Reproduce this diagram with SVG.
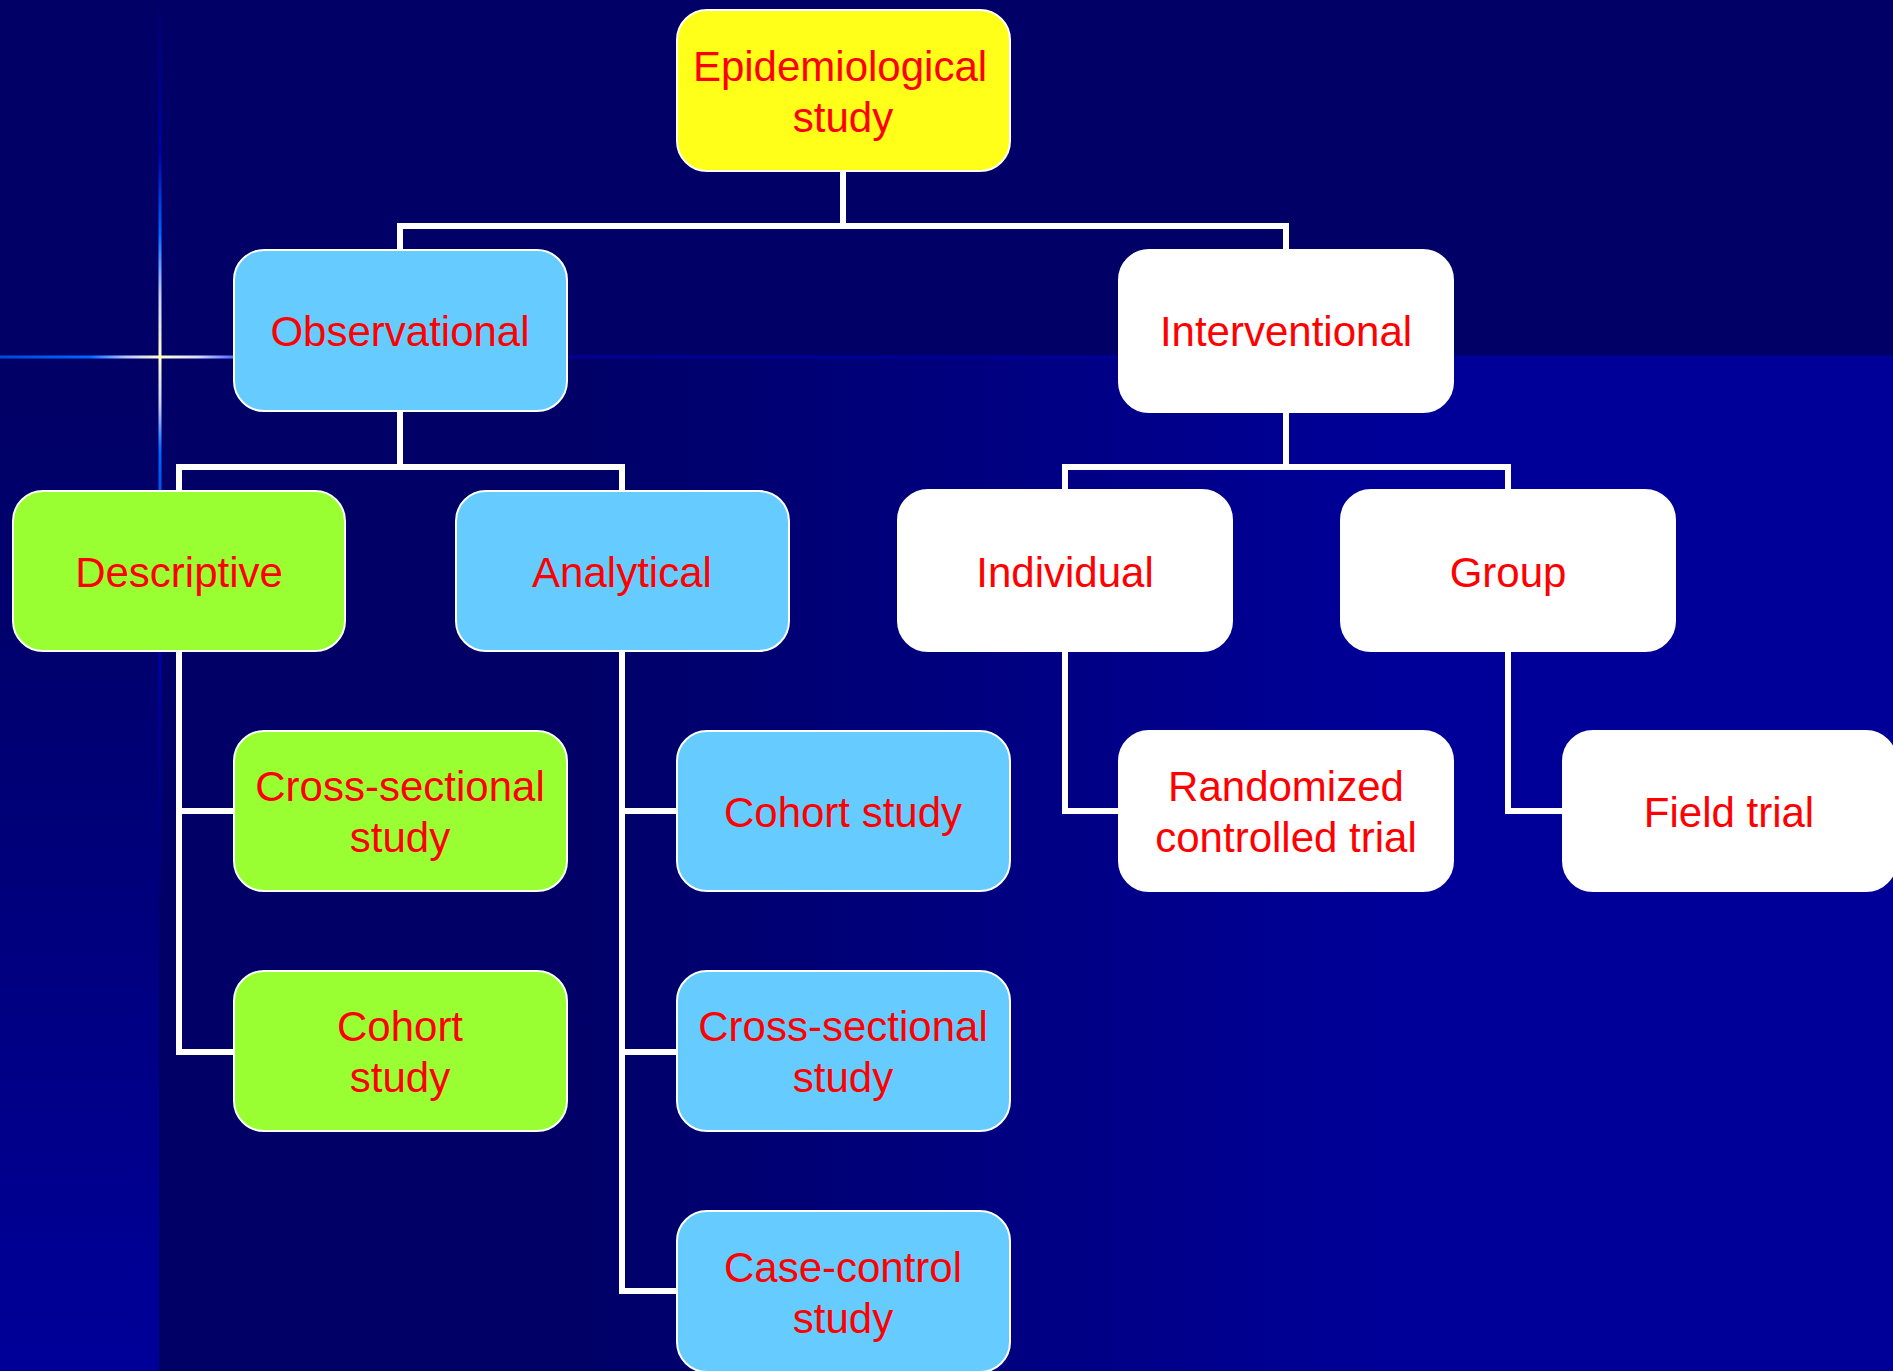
<svg xmlns="http://www.w3.org/2000/svg" width="1893" height="1371" viewBox="0 0 1893 1371">
  <defs>
    <linearGradient id="gLower" gradientUnits="userSpaceOnUse" x1="159" y1="0" x2="1893" y2="0">
      <stop offset="0" stop-color="#000066"/>
      <stop offset="0.23" stop-color="#000066"/>
      <stop offset="0.72" stop-color="#000099"/>
      <stop offset="1" stop-color="#000099"/>
    </linearGradient>
    <linearGradient id="gStrip" gradientUnits="userSpaceOnUse" x1="0" y1="358" x2="0" y2="1371">
      <stop offset="0" stop-color="#000066"/>
      <stop offset="0.3" stop-color="#00006e"/>
      <stop offset="1" stop-color="#000099"/>
    </linearGradient>
    <linearGradient id="gHGlow" gradientUnits="userSpaceOnUse" x1="0" y1="0" x2="600" y2="0">
      <stop offset="0" stop-color="#0048d8"/>
      <stop offset="0.15" stop-color="#0066ff"/>
      <stop offset="0.21" stop-color="#b8c4ff"/>
      <stop offset="0.267" stop-color="#ffffcc"/>
      <stop offset="0.33" stop-color="#d8dcff"/>
      <stop offset="0.39" stop-color="#4a66ff"/>
      <stop offset="0.5" stop-color="#000099"/>
      <stop offset="1" stop-color="#000099"/>
    </linearGradient>
    <linearGradient id="gVGlow" gradientUnits="userSpaceOnUse" x1="0" y1="0" x2="0" y2="900">
      <stop offset="0" stop-color="#000066"/>
      <stop offset="0.04" stop-color="#000080"/>
      <stop offset="0.17" stop-color="#0000aa"/>
      <stop offset="0.26" stop-color="#0066ff"/>
      <stop offset="0.33" stop-color="#c8d0ff"/>
      <stop offset="0.397" stop-color="#ffffcc"/>
      <stop offset="0.45" stop-color="#c8d0ff"/>
      <stop offset="0.5" stop-color="#0066ff"/>
      <stop offset="0.62" stop-color="#0033cc"/>
      <stop offset="0.73" stop-color="#0000aa"/>
      <stop offset="0.88" stop-color="#000088"/>
      <stop offset="1" stop-color="#000070"/>
    </linearGradient>
    <style>
      .node { stroke: #ffffff; stroke-width: 2; }
      .yellow { fill: #ffff19; }
      .blue { fill: #66ccff; }
      .green { fill: #99ff33; }
      .white { fill: #ffffff; }
      .lbl { font-family: "Liberation Sans", Arial, sans-serif; font-size: 42px; fill: #ff0000; text-anchor: middle; }
      .conn { fill: none; stroke: #ffffff; stroke-width: 6; stroke-linejoin: miter; stroke-linecap: butt; }
    </style>
  </defs>

  <!-- background -->
  <g id="background">
    <rect x="0" y="0" width="1893" height="1371" fill="#000066"/>
    <rect x="159" y="357" width="1734" height="1014" fill="url(#gLower)"/>
    <rect x="0" y="357" width="159" height="1014" fill="url(#gStrip)"/>
    <rect x="0" y="355.5" width="1893" height="3" fill="url(#gHGlow)"/>
    <rect x="158.5" y="0" width="3" height="900" fill="url(#gVGlow)"/>
  </g>

  <!-- connectors -->
  <g id="connectors">
    <path class="conn" d="M843,171 V226 M400,250 V226 H1286 V250"/>
    <path class="conn" d="M400,411 V467 M179,491 V467 H622 V491"/>
    <path class="conn" d="M1286,412 V467 M1065,490 V467 H1508 V490"/>
    <path class="conn" d="M179,651 V1052 H234 M179,811 H234"/>
    <path class="conn" d="M622,651 V1291 H677 M622,811 H677 M622,1052 H677"/>
    <path class="conn" d="M1065,651 V811 H1119"/>
    <path class="conn" d="M1508,651 V811 H1563"/>
  </g>

  <g id="epidemiological">
    <rect class="node yellow" x="677" y="10" width="333" height="161" rx="30"/>
    <text class="lbl" x="840" y="81">Epidemiological</text>
    <text class="lbl" x="843" y="132">study</text>
  </g>

  <g id="observational">
    <rect class="node blue" x="234" y="250" width="333" height="161" rx="30"/>
    <text class="lbl" x="400" y="346">Observational</text>
  </g>

  <g id="interventional">
    <rect class="node white" x="1119" y="250" width="334" height="162" rx="30"/>
    <text class="lbl" x="1286" y="346">Interventional</text>
  </g>

  <g id="descriptive">
    <rect class="node green" x="13" y="491" width="332" height="160" rx="30"/>
    <text class="lbl" x="179" y="587">Descriptive</text>
  </g>

  <g id="analytical">
    <rect class="node blue" x="456" y="491" width="333" height="160" rx="30"/>
    <text class="lbl" x="622" y="587">Analytical</text>
  </g>

  <g id="individual">
    <rect class="node white" x="898" y="490" width="334" height="161" rx="30"/>
    <text class="lbl" x="1065" y="587">Individual</text>
  </g>

  <g id="group">
    <rect class="node white" x="1341" y="490" width="334" height="161" rx="30"/>
    <text class="lbl" x="1508" y="587">Group</text>
  </g>

  <g id="cross-sectional-descriptive">
    <rect class="node green" x="234" y="731" width="333" height="160" rx="30"/>
    <text class="lbl" x="400" y="801">Cross-sectional</text>
    <text class="lbl" x="400" y="852">study</text>
  </g>

  <g id="cohort-descriptive">
    <rect class="node green" x="234" y="971" width="333" height="160" rx="30"/>
    <text class="lbl" x="400" y="1041">Cohort</text>
    <text class="lbl" x="400" y="1092">study</text>
  </g>

  <g id="cohort-analytical">
    <rect class="node blue" x="677" y="731" width="333" height="160" rx="30"/>
    <text class="lbl" x="843" y="827">Cohort study</text>
  </g>

  <g id="cross-sectional-analytical">
    <rect class="node blue" x="677" y="971" width="333" height="160" rx="30"/>
    <text class="lbl" x="843" y="1041">Cross-sectional</text>
    <text class="lbl" x="843" y="1092">study</text>
  </g>

  <g id="case-control">
    <rect class="node blue" x="677" y="1211" width="333" height="161" rx="30"/>
    <text class="lbl" x="843" y="1282">Case-control</text>
    <text class="lbl" x="843" y="1333">study</text>
  </g>

  <g id="rct">
    <rect class="node white" x="1119" y="731" width="334" height="160" rx="30"/>
    <text class="lbl" x="1286" y="801">Randomized</text>
    <text class="lbl" x="1286" y="852">controlled trial</text>
  </g>

  <g id="field-trial">
    <rect class="node white" x="1563" y="731" width="333" height="160" rx="30"/>
    <text class="lbl" x="1729" y="827">Field trial</text>
  </g>
</svg>
